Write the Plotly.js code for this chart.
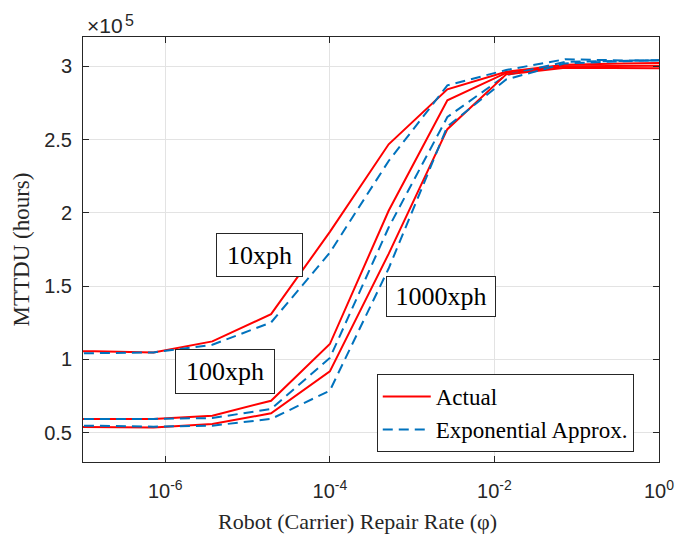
<!DOCTYPE html>
<html>
<head>
<meta charset="utf-8">
<script src="https://cdn.plot.ly/plotly-3.0.1.min.js"></script>
<style>html,body{margin:0;padding:0;background:#fff;}#chart{width:689px;height:535px;}</style>
</head>
<body>
<div id="chart"></div>
<script>
// Robot (carrier) repair rate phi
const phi = [2.68e-8, 1.39e-7, 7.20e-7, 3.73e-6, 1.93e-5, 1.00e-4, 5.18e-4, 2.68e-3, 1.39e-2, 7.20e-2, 3.73e-1, 1.93];
// MTTDU in units of 1e5 hours
const actual10   = [1.055, 1.055, 1.048, 1.123, 1.309, 1.870, 2.468, 2.843, 2.963, 3.010, 3.020, 3.025];
const approx10   = [1.037, 1.040, 1.048, 1.100, 1.252, 1.729, 2.354, 2.870, 2.975, 3.048, 3.040, 3.040];
const actual100  = [0.594, 0.594, 0.594, 0.616, 0.718, 1.105, 2.014, 2.768, 2.955, 3.000, 3.005, 3.005];
const approx100  = [0.594, 0.594, 0.594, 0.600, 0.662, 1.010, 1.900, 2.654, 2.940, 3.030, 3.040, 3.045];
const actual1000 = [0.541, 0.541, 0.536, 0.560, 0.632, 0.918, 1.720, 2.571, 2.945, 2.990, 2.990, 2.985];
const approx1000 = [0.548, 0.548, 0.541, 0.548, 0.594, 0.787, 1.620, 2.590, 2.910, 3.020, 3.035, 3.045];

const xTickVals = [1e-6, 1e-4, 1e-2, 1];
const xTickText = ['10<sup>-6</sup>', '10<sup>-4</sup>', '10<sup>-2</sup>', '10<sup>0</sup>'];
const yTickVals = [0.5, 1, 1.5, 2, 2.5, 3];
const yTickText = ['0.5', '1', '1.5', '2', '2.5', '3'];
const seriesNames = ['Actual', 'Exponential Approx.'];
const labels = ['10xph', '100xph', '1000xph'];
const xTitle = 'Robot (Carrier) Repair Rate (φ)';
const yTitle = 'MTTDU (hours)';

const RED = '#ff0000', BLUE = '#0072bd';
function actualTrace(y, show) {
  return {x: phi, y: y, type: 'scatter', mode: 'lines', name: seriesNames[0],
    legendgroup: 'a', showlegend: show, legendrank: 1,
    line: {color: RED, width: 2}};
}
function approxTrace(y, show) {
  return {x: phi, y: y, type: 'scatter', mode: 'lines', name: seriesNames[1],
    legendgroup: 'b', showlegend: show, legendrank: 2,
    line: {color: BLUE, width: 2, dash: '10px,6px'}};
}
const data = [
  actualTrace(actual10, true), approxTrace(approx10, true),
  actualTrace(actual100, false), approxTrace(approx100, false),
  actualTrace(actual1000, false), approxTrace(approx1000, false)
];

const AX = '#262626';
const sans = 'Liberation Sans, Arial, sans-serif';
const tickFont = {family: sans, size: 20, color: AX};
const serif = 'Liberation Serif, Times New Roman, serif';
function boxLabel(text, x, y, w, h) {
  return {text: text, xref: 'paper', yref: 'paper', x: x, y: y, xanchor: 'center', yanchor: 'middle',
    showarrow: false, width: w, height: h, borderpad: 0, bordercolor: AX, borderwidth: 1,
    bgcolor: '#ffffff', font: {family: serif, size: 26, color: '#000'}};
}
const layout = {
  width: 689, height: 535,
  margin: {l: 83, r: 30, t: 37, b: 73},
  paper_bgcolor: '#fff', plot_bgcolor: '#fff',
  showlegend: true,
  xaxis: {type: 'log', range: [-7, 0], tickvals: xTickVals, ticktext: xTickText,
    showgrid: true, gridcolor: '#e3e3e3', gridwidth: 1, zeroline: false,
    showline: true, linecolor: AX, linewidth: 1, mirror: 'ticks',
    ticks: 'inside', ticklen: 6, tickcolor: AX, tickfont: tickFont, ticklabelstandoff: 11},
  yaxis: {range: [0.3, 3.2], tickvals: yTickVals, ticktext: yTickText,
    showgrid: true, gridcolor: '#e3e3e3', gridwidth: 1, zeroline: false,
    showline: true, linecolor: AX, linewidth: 1, mirror: 'ticks',
    ticks: 'inside', ticklen: 6, tickcolor: AX, tickfont: tickFont, ticklabelstandoff: 6,
    title: {text: yTitle, font: {family: serif, size: 23, color: AX}, standoff: 8}},
  legend: {x: 0.51, y: 0.207, xanchor: 'left', yanchor: 'top', bgcolor: '#fff',
    bordercolor: AX, borderwidth: 1, font: {family: serif, size: 23, color: '#000'},
    traceorder: 'normal', tracegroupgap: 0, itemwidth: 48},
  annotations: [
    {text: '×10', xref: 'paper', yref: 'paper', x: 0, y: 1, xanchor: 'left', yanchor: 'bottom',
     showarrow: false, font: {family: sans, size: 21, color: AX}, xshift: 2, yshift: -2},
    {text: '5', xref: 'paper', yref: 'paper', x: 0, y: 1, xanchor: 'left', yanchor: 'bottom',
     showarrow: false, font: {family: sans, size: 16, color: AX}, xshift: 40, yshift: 6},
    {text: xTitle, xref: 'paper', yref: 'paper', x: 0.4774, y: -0.140, xanchor: 'center', yanchor: 'middle',
     showarrow: false, font: {family: serif, size: 22, color: AX}},
    boxLabel(labels[0], 0.3056, 0.4864, 85, 42),
    boxLabel(labels[1], 0.2465, 0.2132, 98, 43),
    boxLabel(labels[2], 0.6208, 0.3888, 108, 39)
  ]
};
Plotly.newPlot('chart', data, layout, {displayModeBar: false, staticPlot: true});
</script>
</body>
</html>
